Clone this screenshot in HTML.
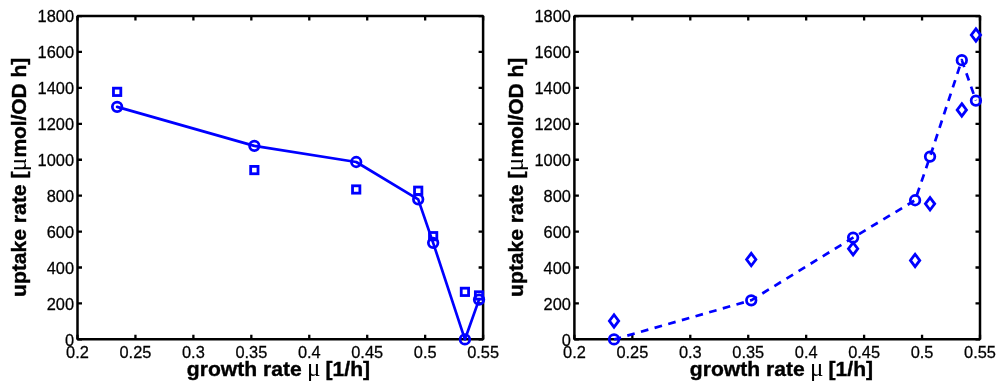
<!DOCTYPE html>
<html><head><meta charset="utf-8"><title>uptake rate vs growth rate</title>
<style>
html,body{margin:0;padding:0;background:#fff;}
body{width:1000px;height:388px;overflow:hidden;}
svg{display:block;}
text{font-family:"Liberation Sans",sans-serif;fill:#000;}
.tk{font-size:16.4px;stroke:#000;stroke-width:0.25px;}
.lb{font-size:21.1px;font-weight:bold;stroke:#000;stroke-width:0.4px;}
.mu{font-family:"Liberation Serif",serif;font-weight:normal;font-size:25px;stroke:none;}
</style></head><body>
<svg width="1000" height="388" viewBox="0 0 1000 388">
<rect width="1000" height="388" fill="#fff"/>

<rect x="77.5" y="16.05" width="405.60" height="323.30" fill="none" stroke="#000" stroke-width="2.5" stroke-linejoin="bevel"/>
<text class="tk" transform="translate(77.50,358.00) scale(1,1.02)" text-anchor="middle">0.2</text>
<text class="tk" transform="translate(135.44,358.00) scale(1,1.02)" text-anchor="middle">0.25</text>
<text class="tk" transform="translate(193.39,358.00) scale(1,1.02)" text-anchor="middle">0.3</text>
<text class="tk" transform="translate(251.33,358.00) scale(1,1.02)" text-anchor="middle">0.35</text>
<text class="tk" transform="translate(309.27,358.00) scale(1,1.02)" text-anchor="middle">0.4</text>
<text class="tk" transform="translate(367.21,358.00) scale(1,1.02)" text-anchor="middle">0.45</text>
<text class="tk" transform="translate(425.16,358.00) scale(1,1.02)" text-anchor="middle">0.5</text>
<text class="tk" transform="translate(483.10,358.00) scale(1,1.02)" text-anchor="middle">0.55</text>
<text class="tk" transform="translate(74.00,345.75) scale(1,1.02)" text-anchor="end">0</text>
<text class="tk" transform="translate(74.00,309.83) scale(1,1.02)" text-anchor="end">200</text>
<text class="tk" transform="translate(74.00,273.91) scale(1,1.02)" text-anchor="end">400</text>
<text class="tk" transform="translate(74.00,237.98) scale(1,1.02)" text-anchor="end">600</text>
<text class="tk" transform="translate(74.00,202.06) scale(1,1.02)" text-anchor="end">800</text>
<text class="tk" transform="translate(74.00,166.14) scale(1,1.02)" text-anchor="end">1000</text>
<text class="tk" transform="translate(74.00,130.22) scale(1,1.02)" text-anchor="end">1200</text>
<text class="tk" transform="translate(74.00,94.29) scale(1,1.02)" text-anchor="end">1400</text>
<text class="tk" transform="translate(74.00,58.37) scale(1,1.02)" text-anchor="end">1600</text>
<text class="tk" transform="translate(74.00,22.45) scale(1,1.02)" text-anchor="end">1800</text>
<path d="M77.50 339.35v-4.5M77.50 16.05v4.5M135.44 339.35v-4.5M135.44 16.05v4.5M193.39 339.35v-4.5M193.39 16.05v4.5M251.33 339.35v-4.5M251.33 16.05v4.5M309.27 339.35v-4.5M309.27 16.05v4.5M367.21 339.35v-4.5M367.21 16.05v4.5M425.16 339.35v-4.5M425.16 16.05v4.5M483.10 339.35v-4.5M483.10 16.05v4.5M77.5 339.35h4.5M483.1 339.35h-4.5M77.5 303.43h4.5M483.1 303.43h-4.5M77.5 267.51h4.5M483.1 267.51h-4.5M77.5 231.58h4.5M483.1 231.58h-4.5M77.5 195.66h4.5M483.1 195.66h-4.5M77.5 159.74h4.5M483.1 159.74h-4.5M77.5 123.82h4.5M483.1 123.82h-4.5M77.5 87.89h4.5M483.1 87.89h-4.5M77.5 51.97h4.5M483.1 51.97h-4.5M77.5 16.05h4.5M483.1 16.05h-4.5" stroke="#000" stroke-width="2.3" fill="none"/>
<text class="lb" y="376"><tspan x="186.80">growth rate</tspan><tspan class="mu" x="307.00">μ</tspan><tspan x="325.60">[1/h]</tspan></text>
<g transform="translate(25.80,0) rotate(-90)"><text class="lb" y="0"><tspan x="-297.0">uptake rate [</tspan><tspan class="mu" x="-171.3">μ</tspan><tspan x="-157.6" letter-spacing="-0.12">mol/OD h]</tspan></text></g>
<rect x="574.4" y="16.05" width="405.60" height="323.30" fill="none" stroke="#000" stroke-width="2.5" stroke-linejoin="bevel"/>
<text class="tk" transform="translate(574.40,358.00) scale(1,1.02)" text-anchor="middle">0.2</text>
<text class="tk" transform="translate(632.34,358.00) scale(1,1.02)" text-anchor="middle">0.25</text>
<text class="tk" transform="translate(690.29,358.00) scale(1,1.02)" text-anchor="middle">0.3</text>
<text class="tk" transform="translate(748.23,358.00) scale(1,1.02)" text-anchor="middle">0.35</text>
<text class="tk" transform="translate(806.17,358.00) scale(1,1.02)" text-anchor="middle">0.4</text>
<text class="tk" transform="translate(864.11,358.00) scale(1,1.02)" text-anchor="middle">0.45</text>
<text class="tk" transform="translate(922.06,358.00) scale(1,1.02)" text-anchor="middle">0.5</text>
<text class="tk" transform="translate(980.00,358.00) scale(1,1.02)" text-anchor="middle">0.55</text>
<text class="tk" transform="translate(570.90,345.75) scale(1,1.02)" text-anchor="end">0</text>
<text class="tk" transform="translate(570.90,309.83) scale(1,1.02)" text-anchor="end">200</text>
<text class="tk" transform="translate(570.90,273.91) scale(1,1.02)" text-anchor="end">400</text>
<text class="tk" transform="translate(570.90,237.98) scale(1,1.02)" text-anchor="end">600</text>
<text class="tk" transform="translate(570.90,202.06) scale(1,1.02)" text-anchor="end">800</text>
<text class="tk" transform="translate(570.90,166.14) scale(1,1.02)" text-anchor="end">1000</text>
<text class="tk" transform="translate(570.90,130.22) scale(1,1.02)" text-anchor="end">1200</text>
<text class="tk" transform="translate(570.90,94.29) scale(1,1.02)" text-anchor="end">1400</text>
<text class="tk" transform="translate(570.90,58.37) scale(1,1.02)" text-anchor="end">1600</text>
<text class="tk" transform="translate(570.90,22.45) scale(1,1.02)" text-anchor="end">1800</text>
<path d="M574.40 339.35v-4.5M574.40 16.05v4.5M632.34 339.35v-4.5M632.34 16.05v4.5M690.29 339.35v-4.5M690.29 16.05v4.5M748.23 339.35v-4.5M748.23 16.05v4.5M806.17 339.35v-4.5M806.17 16.05v4.5M864.11 339.35v-4.5M864.11 16.05v4.5M922.06 339.35v-4.5M922.06 16.05v4.5M980.00 339.35v-4.5M980.00 16.05v4.5M574.4 339.35h4.5M980.0 339.35h-4.5M574.4 303.43h4.5M980.0 303.43h-4.5M574.4 267.51h4.5M980.0 267.51h-4.5M574.4 231.58h4.5M980.0 231.58h-4.5M574.4 195.66h4.5M980.0 195.66h-4.5M574.4 159.74h4.5M980.0 159.74h-4.5M574.4 123.82h4.5M980.0 123.82h-4.5M574.4 87.89h4.5M980.0 87.89h-4.5M574.4 51.97h4.5M980.0 51.97h-4.5M574.4 16.05h4.5M980.0 16.05h-4.5" stroke="#000" stroke-width="2.3" fill="none"/>
<text class="lb" y="376"><tspan x="689.80">growth rate</tspan><tspan class="mu" x="810.00">μ</tspan><tspan x="828.60">[1/h]</tspan></text>
<g transform="translate(522.70,0) rotate(-90)"><text class="lb" y="0"><tspan x="-297.0">uptake rate [</tspan><tspan class="mu" x="-171.3">μ</tspan><tspan x="-157.6" letter-spacing="-0.12">mol/OD h]</tspan></text></g>
<polyline points="117.13,106.85 254.34,145.83 356.21,161.99 418.20,199.35 433.15,242.82 464.91,339.45 479.04,299.58" fill="none" stroke="#0000ff" stroke-width="2.7" stroke-linejoin="round" stroke-linecap="round"/>
<circle cx="117.13" cy="106.85" r="4.78" fill="none" stroke="#0000ff" stroke-width="2.75"/>
<circle cx="254.34" cy="145.83" r="4.78" fill="none" stroke="#0000ff" stroke-width="2.75"/>
<circle cx="356.21" cy="161.99" r="4.78" fill="none" stroke="#0000ff" stroke-width="2.75"/>
<circle cx="418.20" cy="199.35" r="4.78" fill="none" stroke="#0000ff" stroke-width="2.75"/>
<circle cx="433.15" cy="242.82" r="4.78" fill="none" stroke="#0000ff" stroke-width="2.75"/>
<circle cx="464.91" cy="339.45" r="4.78" fill="none" stroke="#0000ff" stroke-width="2.75"/>
<circle cx="479.04" cy="299.58" r="4.78" fill="none" stroke="#0000ff" stroke-width="2.75"/>
<rect x="113.46" y="88.18" width="7.35" height="7.35" fill="none" stroke="#0000ff" stroke-width="2.8"/>
<rect x="250.67" y="166.40" width="7.35" height="7.35" fill="none" stroke="#0000ff" stroke-width="2.8"/>
<rect x="352.53" y="185.80" width="7.35" height="7.35" fill="none" stroke="#0000ff" stroke-width="2.8"/>
<rect x="414.53" y="187.06" width="7.35" height="7.35" fill="none" stroke="#0000ff" stroke-width="2.8"/>
<rect x="429.48" y="232.50" width="7.35" height="7.35" fill="none" stroke="#0000ff" stroke-width="2.8"/>
<rect x="461.23" y="288.18" width="7.35" height="7.35" fill="none" stroke="#0000ff" stroke-width="2.8"/>
<rect x="475.37" y="291.77" width="7.35" height="7.35" fill="none" stroke="#0000ff" stroke-width="2.8"/>
<polyline points="614.03,339.45 751.24,300.29 853.11,237.61 915.10,200.25 930.05,156.61 961.81,60.15 975.94,100.57" fill="none" stroke="#0000ff" stroke-width="2.7" stroke-dasharray="7.7 6.49" stroke-dashoffset="0.4" stroke-linejoin="round"/>
<circle cx="614.03" cy="339.45" r="4.78" fill="none" stroke="#0000ff" stroke-width="2.75"/>
<circle cx="751.24" cy="300.29" r="4.78" fill="none" stroke="#0000ff" stroke-width="2.75"/>
<circle cx="853.11" cy="237.61" r="4.78" fill="none" stroke="#0000ff" stroke-width="2.75"/>
<circle cx="915.10" cy="200.25" r="4.78" fill="none" stroke="#0000ff" stroke-width="2.75"/>
<circle cx="930.05" cy="156.61" r="4.78" fill="none" stroke="#0000ff" stroke-width="2.75"/>
<circle cx="961.81" cy="60.15" r="4.78" fill="none" stroke="#0000ff" stroke-width="2.75"/>
<circle cx="975.94" cy="100.57" r="4.78" fill="none" stroke="#0000ff" stroke-width="2.75"/>
<path d="M614.03 314.75l4.65 6.2l-4.65 6.2l-4.65 -6.2z" fill="none" stroke="#0000ff" stroke-width="2.8"/>
<path d="M751.24 253.32l4.65 6.2l-4.65 6.2l-4.65 -6.2z" fill="none" stroke="#0000ff" stroke-width="2.8"/>
<path d="M853.11 242.55l4.65 6.2l-4.65 6.2l-4.65 -6.2z" fill="none" stroke="#0000ff" stroke-width="2.8"/>
<path d="M915.10 254.22l4.65 6.2l-4.65 6.2l-4.65 -6.2z" fill="none" stroke="#0000ff" stroke-width="2.8"/>
<path d="M930.05 197.64l4.65 6.2l-4.65 6.2l-4.65 -6.2z" fill="none" stroke="#0000ff" stroke-width="2.8"/>
<path d="M961.81 103.71l4.65 6.2l-4.65 6.2l-4.65 -6.2z" fill="none" stroke="#0000ff" stroke-width="2.8"/>
<path d="M975.94 28.81l4.65 6.2l-4.65 6.2l-4.65 -6.2z" fill="none" stroke="#0000ff" stroke-width="2.8"/>
</svg></body></html>
